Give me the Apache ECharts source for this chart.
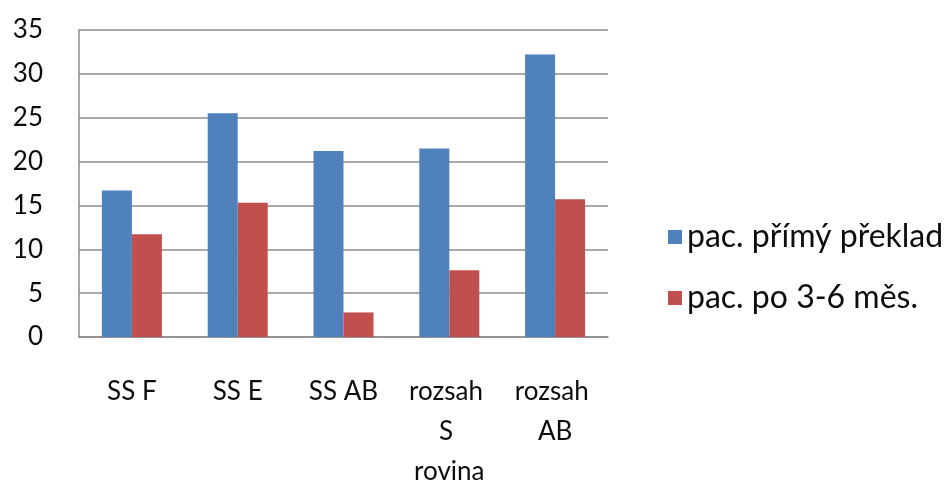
<!DOCTYPE html>
<html>
<head>
<meta charset="utf-8">
<script src="https://cdn.jsdelivr.net/npm/echarts@6/dist/echarts.min.js"></script>
<style>
  html, body { margin: 0; padding: 0; background: #fff; }
  #chart { width: 949px; height: 485px; }
</style>
</head>
<body>
<div id="chart"></div>
<script>
// Categories and values per series
const categories = ['SS F', 'SS E', 'SS AB', 'rozsah S rovina', 'rozsah AB'];
const primyPreklad = [16.7, 25.5, 21.2, 21.5, 32.2];
const po36Mes = [11.7, 15.3, 2.8, 7.6, 15.7];
const seriesNames = ['pac. přímý překlad', 'pac. po 3-6 měs.'];
const yTicks = { min: 0, max: 35, interval: 5 };

const FONT = 'Lato';
const chart = echarts.init(document.getElementById('chart'), null, { renderer: 'canvas' });

chart.setOption({
  animation: false,
  backgroundColor: '#ffffff',
  textStyle: { fontFamily: FONT },
  grid: { left: 79, right: 341, top: 30, bottom: 148, containLabel: false, outerBoundsMode: 'none' },
  legend: {
    orient: 'vertical',
    left: 663,
    top: 214,
    itemWidth: 14,
    itemHeight: 14,
    itemGap: 25,
    icon: 'rect',
    textStyle: { fontFamily: FONT, fontSize: 32, lineHeight: 36, color: '#0d0d0d' },
    data: seriesNames
  },
  xAxis: {
    type: 'category',
    data: categories,
    axisLine: { lineStyle: { color: '#8c8c8c', width: 1.5 } },
    axisTick: { show: false },
    axisLabel: {
      fontFamily: FONT,
      fontSize: 26,
      color: '#0d0d0d',
      margin: 35,
      lineHeight: 40,
      interval: 0,
      width: 88,
      overflow: 'break'
    }
  },
  yAxis: {
    type: 'value',
    min: yTicks.min,
    max: yTicks.max,
    interval: yTicks.interval,
    axisLine: { show: true, lineStyle: { color: '#8c8c8c', width: 1.5 } },
    axisTick: { show: false },
    splitLine: { lineStyle: { color: '#8c8c8c', width: 1.5 } },
    axisLabel: { fontFamily: FONT, fontSize: 26, color: '#0d0d0d', margin: 36 }
  },
  series: [
    {
      name: seriesNames[0],
      type: 'bar',
      data: primyPreklad,
      itemStyle: { color: '#4F81BD' },
      barWidth: 30,
      barGap: '0%'
    },
    {
      name: seriesNames[1],
      type: 'bar',
      data: po36Mes,
      itemStyle: { color: '#C0504D' },
      barWidth: 30,
      barGap: '0%'
    }
  ]
});
</script>
</body>
</html>
